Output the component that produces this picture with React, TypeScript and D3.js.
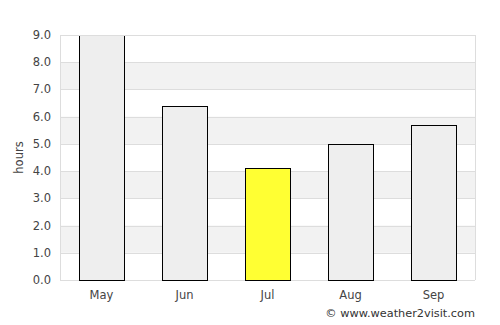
import React, { useEffect, useRef } from "react";
import * as d3 from "d3";

const months = ["May", "Jun", "Jul", "Aug", "Sep"];
const hours = [9.0, 6.4, 4.1, 5.0, 5.7];
const highlight = "Jul";
const yTicks = [0, 1, 2, 3, 4, 5, 6, 7, 8, 9];

function App(): JSX.Element {
  const ref = useRef<SVGSVGElement>(null);

  useEffect(() => {
    if (!ref.current) return;
    const svg = d3.select(ref.current);
    svg.selectAll("*").remove();

    const margin = { top: 35, right: 25, bottom: 45, left: 60 };
    const width = 500 - margin.left - margin.right;
    const height = 325 - margin.top - margin.bottom;
    const font = "DejaVu Sans, sans-serif";

    const x = d3.scaleBand().domain(months).range([0, width]).paddingInner(0.455).paddingOuter(0.2275);
    const y = d3.scaleLinear().domain([0, 9]).range([height, 0]);

    svg
      .append("defs")
      .append("clipPath")
      .attr("id", "plot-clip")
      .append("rect")
      .attr("x", 0)
      .attr("y", 1)
      .attr("width", width)
      .attr("height", height + 2);

    const g = svg.append("g").attr("transform", `translate(${margin.left},${margin.top})`);

    // alternating bands
    yTicks.slice(0, -1).forEach((t) => {
      if (t % 2 === 1) {
        g.append("rect")
          .attr("x", 0)
          .attr("y", y(t + 1))
          .attr("width", width)
          .attr("height", y(t) - y(t + 1))
          .attr("fill", "#f2f2f2");
      }
    });

    g.selectAll(".grid")
      .data(yTicks)
      .enter()
      .append("line")
      .attr("x1", 0)
      .attr("x2", width)
      .attr("y1", (d) => Math.round(y(d)) + 0.5)
      .attr("y2", (d) => Math.round(y(d)) + 0.5)
      .attr("stroke", "#dddddd");

    [0, width].forEach((xx) => {
      g.append("line")
        .attr("x1", xx + 0.5)
        .attr("x2", xx + 0.5)
        .attr("y1", 0)
        .attr("y2", height)
        .attr("stroke", "#dddddd");
    });

    g.append("g")
      .attr("clip-path", "url(#plot-clip)")
      .selectAll(".bar")
      .data(hours)
      .enter()
      .append("rect")
      .attr("x", (_, i) => Math.round(x(months[i])!) + 0.5)
      .attr("y", (d) => Math.round(y(d)) + 0.5)
      .attr("width", Math.round(x.bandwidth()))
      .attr("height", (d) => Math.round(height - y(d)))
      .attr("fill", (_, i) => (months[i] === highlight ? "#ffff33" : "#eeeeee"))
      .attr("stroke", "#000")
      .attr("stroke-width", 1);

    // top frame line over the clipped bar
    g.append("line")
      .attr("x1", 0)
      .attr("x2", width)
      .attr("y1", Math.round(y(9)) + 0.5)
      .attr("y2", Math.round(y(9)) + 0.5)
      .attr("stroke", "#dddddd");

    g.selectAll(".ylab")
      .data(yTicks)
      .enter()
      .append("text")
      .attr("x", -9)
      .attr("y", (d) => y(d))
      .attr("dy", "0.35em")
      .attr("text-anchor", "end")
      .attr("font-family", font)
      .attr("font-size", 11.5)
      .attr("fill", "#444")
      .text((d) => d.toFixed(1));

    g.selectAll(".xlab")
      .data(months)
      .enter()
      .append("text")
      .attr("x", (d) => x(d)! + x.bandwidth() / 2)
      .attr("y", height + 19)
      .attr("text-anchor", "middle")
      .attr("font-family", font)
      .attr("font-size", 11.5)
      .attr("fill", "#444")
      .text((d) => d);

    svg
      .append("text")
      .attr("transform", `translate(23,${margin.top + height / 2}) rotate(-90)`)
      .attr("text-anchor", "middle")
      .attr("font-family", font)
      .attr("font-size", 11.5)
      .attr("fill", "#444")
      .text("hours");

    svg
      .append("text")
      .attr("x", 475)
      .attr("y", 317)
      .attr("text-anchor", "end")
      .attr("font-family", font)
      .attr("font-size", 11.3)
      .attr("fill", "#333")
      .text("© www.weather2visit.com");
  }, []);

  return (
    <svg
      ref={ref}
      width={500}
      height={325}
      style={{ position: "absolute", left: 0, top: 0, background: "#fff" }}
    />
  );
}

export default App;
